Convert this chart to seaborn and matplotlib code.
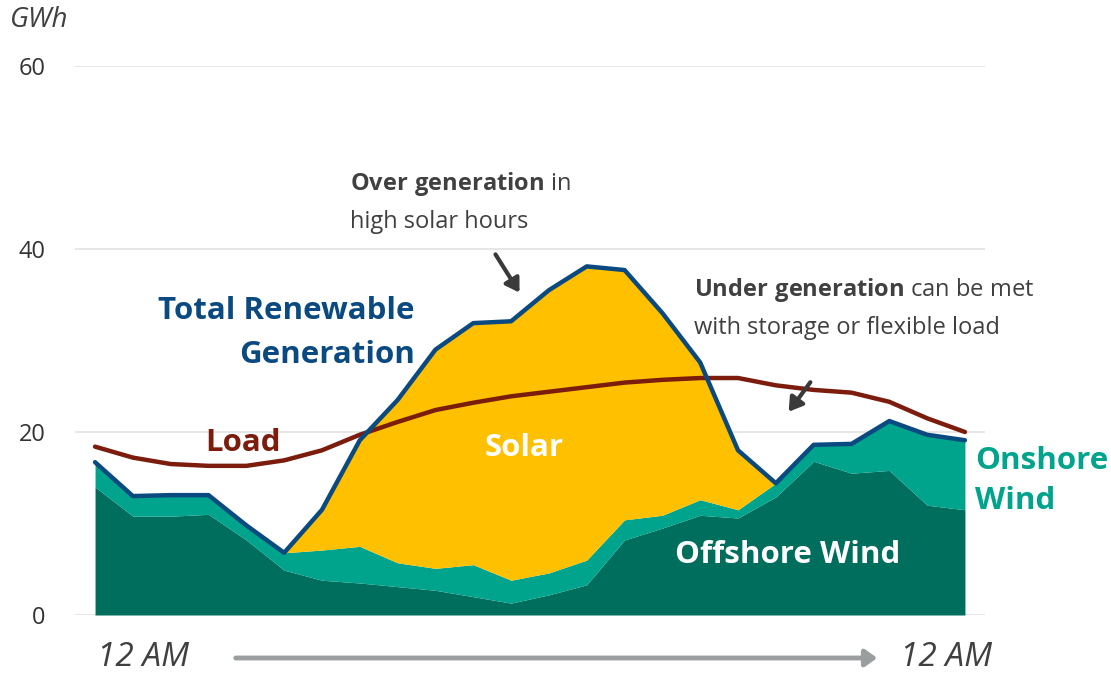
import numpy as np
import pandas as pd
import seaborn as sns
import matplotlib.pyplot as plt
from matplotlib.patches import FancyArrowPatch

# hourly values, GWh
hours = list(range(24))
offshore = [14.0, 10.8, 10.8, 11.0, 8.2, 4.9, 3.8, 3.5, 3.1, 2.7, 2.0, 1.3,
            2.2, 3.3, 8.2, 9.5, 10.9, 10.6, 12.9, 16.8, 15.5, 15.8, 12.0, 11.5]
onshore_top = [16.7, 13.0, 13.1, 13.1, 9.8, 6.8, 7.1, 7.5, 5.7, 5.1, 5.5, 3.8,
               4.6, 6.0, 10.4, 10.9, 12.6, 11.5, 14.4, 18.6, 18.7, 21.2, 19.7, 19.1]
total = [16.7, 13.0, 13.1, 13.1, 9.8, 6.8, 11.5, 19.1, 23.5, 29.0, 31.9, 32.1,
         35.5, 38.1, 37.7, 33.0, 27.6, 18.0, 14.4, 18.6, 18.7, 21.2, 19.7, 19.1]
load = [18.4, 17.2, 16.5, 16.3, 16.3, 16.9, 18.0, 19.7, 21.1, 22.4, 23.2, 23.9,
        24.4, 24.9, 25.4, 25.7, 25.9, 25.9, 25.1, 24.6, 24.3, 23.3, 21.5, 20.0]

onshore = [t - o for t, o in zip(onshore_top, offshore)]
solar = [max(t - s, 0) for t, s in zip(total, onshore_top)]

df = pd.DataFrame({"hour": hours, "total": total, "load": load})

C_OFF = "#006e5c"
C_ON = "#00a38c"
C_SOLAR = "#ffc000"
C_TOTAL = "#0b4a80"
C_LOAD = "#7b1c0c"
C_TXT = "#404040"

sns.set_theme(style="white")
plt.rcParams["font.family"] = ["Open Sans", "DejaVu Sans"]
plt.rcParams["mathtext.fontset"] = "custom"
plt.rcParams["mathtext.rm"] = "Open Sans"
plt.rcParams["mathtext.bf"] = "Open Sans:bold"

fig = plt.figure(figsize=(11.11, 6.74), dpi=100)
ax = fig.add_axes([75 / 1111, 59 / 674, 910 / 1111, 549 / 674])

ax.stackplot(hours, offshore, onshore, solar,
             colors=[C_OFF, C_ON, C_SOLAR], linewidth=0, zorder=2)
sns.lineplot(data=df, x="hour", y="load", color=C_LOAD, linewidth=3.2, ax=ax, zorder=3)
sns.lineplot(data=df, x="hour", y="total", color=C_TOTAL, linewidth=3.2, ax=ax, zorder=4)

ax.set_xlim(-0.53, 23.53)
ax.set_ylim(0, 60)
ax.set_yticks([0, 20, 40, 60])
ax.set_xticks([])
ax.set_xlabel("")
ax.set_ylabel("")
for s in ax.spines.values():
    s.set_visible(False)
ax.grid(axis="y", color="#e2e2e2", linewidth=1.2, zorder=0)
ax.set_axisbelow(True)
ax.tick_params(axis="y", length=0, pad=21, labelsize=17, labelcolor="#333333")

# series labels
LBL = 22.5
ax.text(8.45, 30.8, "Total Renewable\nGeneration", color=C_TOTAL, fontsize=LBL,
        fontweight="bold", ha="right", va="center", linespacing=1.62)
ax.text(3.9, 18.8, "Load", color=C_LOAD, fontsize=LBL, fontweight="bold",
        ha="center", va="center")
ax.text(11.35, 18.3, "Solar", color="white", fontsize=LBL, fontweight="bold",
        ha="center", va="center")
ax.text(18.3, 6.6, "Offshore Wind", color="white", fontsize=LBL, fontweight="bold",
        ha="center", va="center")
fig.text(975 / 1111, 1 - 481 / 674, "Onshore\nWind", color=C_ON, fontsize=LBL,
         fontweight="bold", ha="left", va="center", linespacing=1.42)

# annotations
fig.text(350 / 1111, 1 - 202 / 674, r"$\bf{Over\ generation}$ in" + "\nhigh solar hours",
         color=C_TXT, fontsize=17, ha="left", va="center", linespacing=1.65)
fig.text(694 / 1111, 1 - 308 / 674,
         r"$\bf{Under\ generation}$ can be met" + "\nwith storage or flexible load",
         color=C_TXT, fontsize=17, ha="left", va="center", linespacing=1.65)
for start, end in [((494, 252), (521, 295)), ((812, 380), (787, 414))]:
    fig.add_artist(FancyArrowPatch(
        (start[0] / 1111, 1 - start[1] / 674), (end[0] / 1111, 1 - end[1] / 674),
        transform=fig.transFigure, arrowstyle="-|>,head_length=8,head_width=5",
        color="#3a3a3a", linewidth=3))

# axis unit and time labels
fig.text(10 / 1111, 1 - 20 / 674, "GWh", fontsize=20, style="italic",
         color=C_TXT, ha="left", va="center")
fig.text(143 / 1111, 1 - 657 / 674, "12 AM", fontsize=24, style="italic",
         color=C_TXT, ha="center", va="center")
fig.text(946 / 1111, 1 - 657 / 674, "12 AM", fontsize=24, style="italic",
         color=C_TXT, ha="center", va="center")
fig.add_artist(FancyArrowPatch(
    (233 / 1111, 1 - 658 / 674), (880 / 1111, 1 - 658 / 674),
    transform=fig.transFigure, arrowstyle="-|>,head_length=7,head_width=5",
    color="#9a9e9e", linewidth=3.5))

fig.savefig("out.png", dpi=100)
